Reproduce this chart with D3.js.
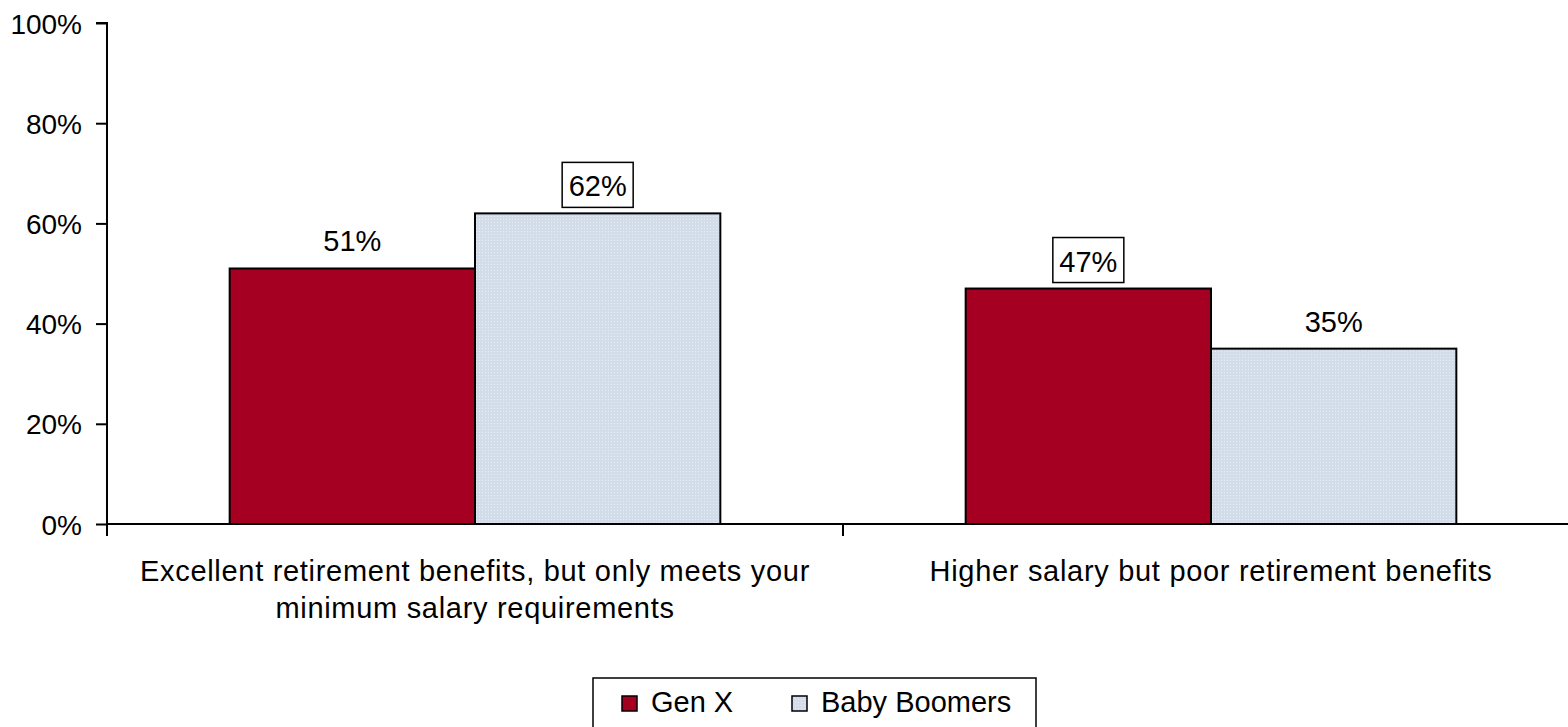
<!DOCTYPE html>
<html>
<head>
<meta charset="utf-8">
<script src="https://cdn.jsdelivr.net/npm/d3@7"></script>
<style>
  html, body { margin: 0; padding: 0; background: #fff; }
  svg { display: block; font-family: Arial, "Liberation Sans", sans-serif; }
</style>
</head>
<body>
<svg id="chart" width="1568" height="727"></svg>
<script>
// Retirement benefits vs. salary preference by generation
const categories = [
  ["Excellent retirement benefits, but only meets your", "minimum salary requirements"],
  ["Higher salary but poor retirement benefits"]
];
const seriesNames = ["Gen X", "Baby Boomers"];
const genX = [51, 47];
const babyBoomers = [62, 35];
const boxedLabels = [[false, true], [true, false]]; // [category][series]
const yTicks = [0, 20, 40, 60, 80, 100];

const colors = ["#A50021", "url(#dots)"];

const svg = d3.select("#chart");
const FS = 29;      // value labels, legend
const FS_TICK = 28; // y tick labels
const FS_CAT = 29;  // category labels

// dotted light-blue fill
const defs = svg.append("defs");
const pat = defs.append("pattern").attr("id", "dots")
  .attr("patternUnits", "userSpaceOnUse").attr("width", 3).attr("height", 3);
pat.append("rect").attr("width", 3).attr("height", 3).attr("fill", "#D2DDE9");
pat.append("rect").attr("width", 1).attr("height", 1).attr("fill", "#E6EDF4");

const left = 107, zeroY = 524, topY = 23;
const catWidth = 736;
const x0 = d3.scaleBand().domain(d3.range(categories.length))
  .range([left, left + catWidth * categories.length]).paddingInner(0).paddingOuter(0);
const x1 = d3.scaleBand().domain(d3.range(seriesNames.length))
  .range([0, x0.bandwidth()]).paddingInner(0).paddingOuter(0.5);
const y = d3.scaleLinear().domain([0, 100]).range([zeroY, topY]);

const data = categories.map((c, i) => [genX[i], babyBoomers[i]]);

// bars
const groups = svg.append("g").selectAll("g").data(data).join("g")
  .attr("transform", (d, i) => `translate(${x0(i)},0)`);
groups.selectAll("rect").data(d => d).join("rect")
  .attr("x", (d, j) => x1(j))
  .attr("y", d => y(d))
  .attr("width", x1.bandwidth())
  .attr("height", d => zeroY - y(d))
  .attr("fill", (d, j) => colors[j])
  .attr("stroke", "#000").attr("stroke-width", 2);

// value labels, some framed
groups.each(function(d, i) {
  const g = d3.select(this);
  d.forEach((v, j) => {
    const cx = x1(j) + x1.bandwidth() / 2;
    if (boxedLabels[i][j]) {
      g.append("rect")
        .attr("x", cx - 35.5).attr("y", y(v) - 51)
        .attr("width", 71).attr("height", 45)
        .attr("fill", "#fff").attr("stroke", "#000").attr("stroke-width", 1.5);
    }
    g.append("text").attr("x", cx).attr("y", y(v) - 17)
      .attr("text-anchor", "middle").attr("font-size", FS).attr("fill", "#000")
      .text(v + "%");
  });
});

// y axis
const yAxis = d3.axisLeft(y).tickValues(yTicks).tickFormat(d => d + "%")
  .tickSize(11).tickPadding(14);
const yg = svg.append("g").attr("transform", `translate(${left},0)`).call(yAxis);
yg.select(".domain").attr("stroke", "#000").attr("stroke-width", 2)
  .attr("d", `M-11,${topY}H0V${zeroY + 12}`);
yg.selectAll(".tick line").attr("stroke", "#000").attr("stroke-width", 2);
yg.selectAll(".tick text").attr("font-size", FS_TICK).attr("fill", "#000")
  .attr("font-family", "Arial, 'Liberation Sans', sans-serif").attr("dy", "0.36em");

// x axis
svg.append("line").attr("x1", left).attr("x2", 1568).attr("y1", zeroY).attr("y2", zeroY)
  .attr("stroke", "#000").attr("stroke-width", 2);
d3.range(1, categories.length).forEach(i => {
  svg.append("line").attr("x1", x0(i)).attr("x2", x0(i))
    .attr("y1", zeroY).attr("y2", zeroY + 12)
    .attr("stroke", "#000").attr("stroke-width", 2);
});

// category labels
categories.forEach((lines, i) => {
  const cx = x0(i) + x0.bandwidth() / 2;
  const t = svg.append("text").attr("text-anchor", "middle")
    .attr("font-size", FS_CAT).attr("fill", "#000")
    .attr("letter-spacing", "0.7px");
  lines.forEach((ln, k) => {
    t.append("tspan").attr("x", cx).attr("y", 581 + k * 37).text(ln);
  });
});

// legend
const lg = svg.append("g");
lg.append("rect").attr("x", 593).attr("y", 678).attr("width", 443).attr("height", 60)
  .attr("fill", "#fff").attr("stroke", "#000").attr("stroke-width", 1.5);
const legendX = [622, 792];
seriesNames.forEach((name, j) => {
  lg.append("rect").attr("x", legendX[j]).attr("y", 696).attr("width", 15).attr("height", 15)
    .attr("fill", colors[j]).attr("stroke", "#000").attr("stroke-width", 1.5);
  lg.append("text").attr("x", legendX[j] + 29).attr("y", 712)
    .attr("font-size", FS).attr("fill", "#000").text(name);
});
</script>
</body>
</html>
